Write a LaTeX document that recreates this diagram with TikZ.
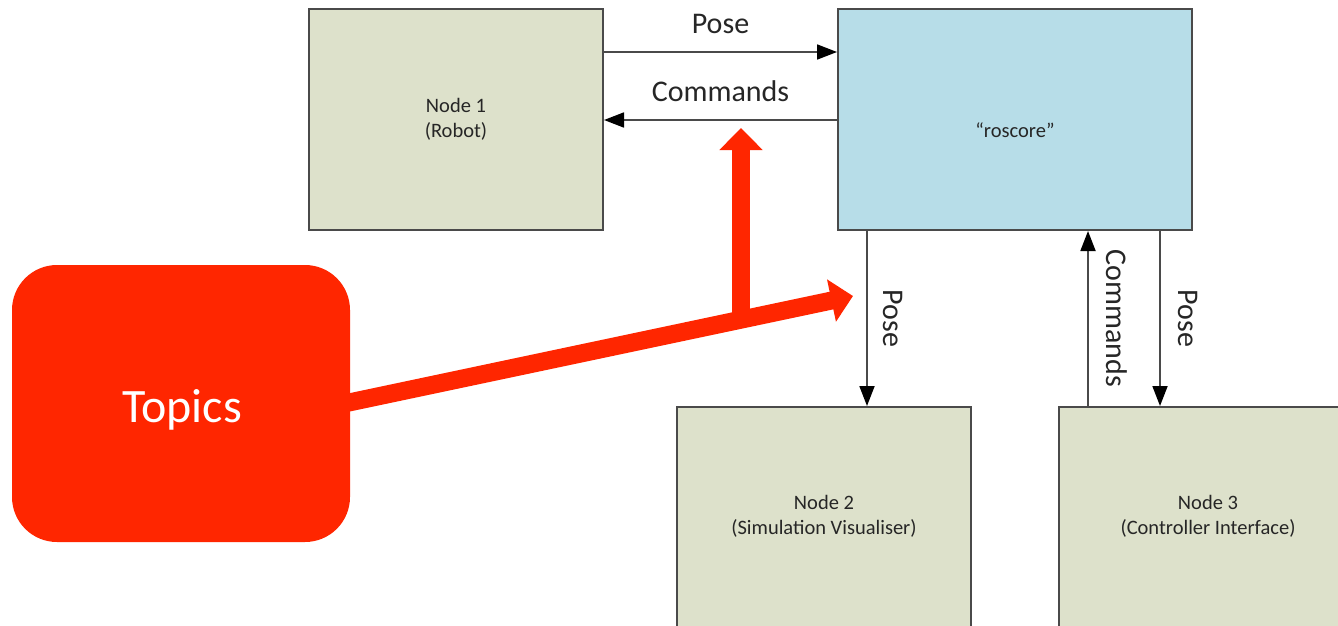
\documentclass[tikz,border=0pt]{standalone}
\usepackage{fontspec}
\setmainfont{Carlito}
\usetikzlibrary{arrows.meta}
\definecolor{nodegreen}{HTML}{DDE1CB}
\definecolor{coreblue}{HTML}{B7DDE8}
\definecolor{topicred}{HTML}{FF2600}
\definecolor{edgegray}{HTML}{4A4A4A}
\begin{document}
\begin{tikzpicture}[x=1pt,y=-1pt,
  box/.style={draw=edgegray, line width=2pt, inner sep=0pt, rectangle},
  boxtext/.style={align=center, font=\fontsize{20.5}{25}\selectfont, text=black!85},
  conn/.style={draw=edgegray, line width=1.8pt, -{Triangle[length=20pt,width=15pt,color=black]}},
  lbl/.style={font=\fontsize{30}{32}\selectfont, text=black!85, inner sep=0pt},
  bigarrow/.style={draw=topicred, line width=18pt, -{Triangle[length=22pt,width=42pt]}}
]
\useasboundingbox (0,0) rectangle (1338,626);
\clip (0,0) rectangle (1338,626);
\fill[white] (0,0) rectangle (1338,626);

% boxes
\node[box, fill=nodegreen, minimum width=294pt, minimum height=221pt, boxtext] (n1) at (456,119.5) {Node 1\\(Robot)};
\node[box, fill=coreblue, minimum width=354pt, minimum height=221pt] (core) at (1015,119.5) {};
\node[boxtext] (coret) at (1015,130) {“roscore”};
\node[box, fill=nodegreen, minimum width=294pt, minimum height=293pt] (n2) at (824,553.5) {};
\node[boxtext] (n2t) at (824,516) {Node 2\\(Simulation Visualiser)};
\node[box, fill=nodegreen, minimum width=341pt, minimum height=293pt] (n3) at (1229.5,553.5) {};
\node[boxtext] (n3t) at (1208,516) {Node 3\\(Controller Interface)};

% connectors
\draw[conn] ([yshift=-44pt]n1.north east) -- node[lbl, midway, yshift=28pt] (l1) {Pose} ([yshift=-44pt]core.north west);
\draw[conn] ([yshift=-112pt]core.north west) -- node[lbl, midway, yshift=29pt] (l2) {Commands} ([yshift=-112pt]n1.north east);
\draw[conn] ([xshift=30pt]core.south west) -- node[lbl, midway, xshift=26pt, rotate=-90] (l3) {Pose} ([xshift=191pt]n2.north west);
\draw[conn] ([xshift=30pt]n3.north west) -- node[lbl, midway, xshift=29pt, rotate=-90] (l4) {Commands} ([xshift=251pt]core.south west);
\draw[conn] ([xshift=323pt]core.south west) -- node[lbl, midway, xshift=28pt, rotate=-90] (l5) {Pose} ([xshift=102pt]n3.north west);

% topics callout
\node[fill=topicred, rounded corners=45pt, minimum width=338pt, minimum height=277pt, inner sep=0pt] (tp) at (181,403.5) {};
\node[text=white, font=\fontsize{48}{50}\selectfont] (tpt) at (182,410) {Topics};
\coordinate (tipA) at (853,296);
\coordinate (tipB) at (741,128);
\coordinate (junc) at (741,324);
\draw[bigarrow] ([xshift=-6pt]tp.east) -- (tipA);
\draw[bigarrow] (junc) -- (tipB);
\end{tikzpicture}
\end{document}
